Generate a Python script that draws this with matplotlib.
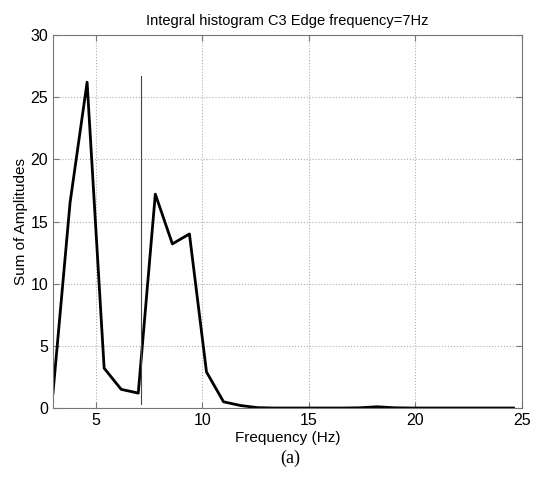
import matplotlib
matplotlib.use("Agg")
import matplotlib.pyplot as plt

# frequency bins (Hz) and summed amplitudes
freq = [3.0, 3.8, 4.6, 5.4, 6.2, 7.0, 7.8, 8.6, 9.4, 10.2, 11.0, 11.8, 12.6, 13.4,
        14.2, 15.0, 15.8, 16.6, 17.4, 18.2, 19.0, 19.8, 20.6, 21.4, 22.2, 23.0,
        23.8, 24.6]
amplitude = [1.2, 16.5, 26.2, 3.2, 1.5, 1.2, 17.2, 13.2, 14.0, 2.9, 0.5, 0.2, 0.03, 0.0,
             0.0, 0.0, 0.0, 0.0, 0.02, 0.1, 0.02, 0.0, 0.0, 0.0, 0.0, 0.0,
             0.0, 0.0]
edge_freq = 7.15
edge_span = [0.35, 26.7]
xticks = [5, 10, 15, 20, 25]
yticks = [0, 5, 10, 15, 20, 25, 30]

plt.rcParams['font.family'] = ['Liberation Sans', 'DejaVu Sans']

fig = plt.figure(figsize=(5.39, 4.84), dpi=100)
ax = fig.add_axes([0.0983, 0.157, 0.8702, 0.7707])

ax.plot(freq, amplitude, color='black', linewidth=2.0)
ax.plot([edge_freq, edge_freq], edge_span, color='#444444', linewidth=0.8)

ax.set_xlim(3, 25)
ax.set_ylim(0, 30)
ax.set_xticks(xticks)
ax.set_yticks(yticks)
ax.grid(True, linestyle=':', color='#b0b0b0', linewidth=0.8)
ax.tick_params(direction='in', top=True, right=True, labelsize=11.5, length=4,
               color='#777777')
for s in ax.spines.values():
    s.set_color('#777777')
    s.set_linewidth(0.8)

ax.set_title('Integral histogram C3 Edge frequency=7Hz', fontsize=10.5, pad=7)
ax.set_xlabel('Frequency (Hz)', fontsize=11, labelpad=2)
ax.set_ylabel('Sum of Amplitudes', fontsize=11, labelpad=2)

fig.text(0.538, 0.052, '(a)', ha='center', va='center', fontsize=13,
         family='Liberation Serif')

fig.savefig('out.png', dpi=100, facecolor='white')
